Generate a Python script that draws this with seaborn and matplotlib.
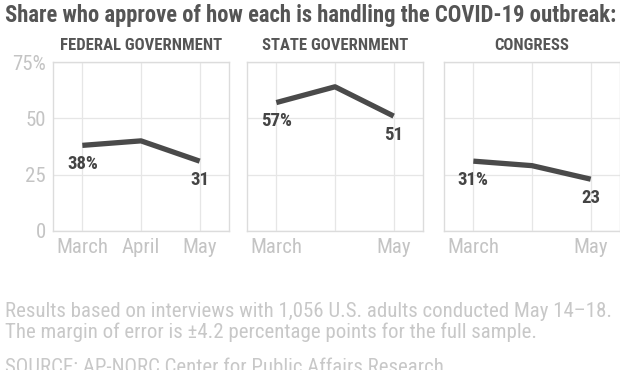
import matplotlib
matplotlib.use("Agg")
import matplotlib.pyplot as plt
import seaborn as sns
import pandas as pd

sns.set_theme(style="white")
plt.rcParams['font.family'] = ['Roboto Condensed', 'DejaVu Sans']

# data
months = ['March', 'April', 'May']
federal = [38, 40, 31]
state = [57, 64, 51]
congress = [31, 29, 23]
panels = ['FEDERAL GOVERNMENT', 'STATE GOVERNMENT', 'CONGRESS']
tick_shown = [['March', 'April', 'May'], ['March', '', 'May'], ['March', '', 'May']]

line_col = '#4a4a4a'
light = '#c4c4c4'
grid_col = '#e6e6e6'

fig = plt.figure(figsize=(6.2, 3.7), dpi=100)
lefts = [53, 247, 444]
width = 176
for i, (name, vals) in enumerate(zip(panels, [federal, state, congress])):
    ax = fig.add_axes([lefts[i] / 620, (370 - 231) / 370, width / 620, 169 / 370])
    df = pd.DataFrame({'x': range(len(months)), 'y': vals})
    sns.lineplot(data=df, x='x', y='y', ax=ax, color=line_col, linewidth=3.8,
                 solid_capstyle='butt')
    ax.set_xlim(-0.5, 2.5)
    ax.set_ylim(0, 75)
    ax.set_xticks(range(len(months)))
    ax.set_xticklabels(tick_shown[i])
    ax.set_yticks([0, 25, 50, 75])
    if i == 0:
        ax.set_yticklabels(['0', '25', '50', '75%'])
    else:
        ax.set_yticklabels([])
    ax.tick_params(length=0, labelsize=15, labelcolor=light, pad=5)
    ax.grid(True, color=grid_col, linewidth=0.9)
    for s in ax.spines.values():
        s.set_color('#dcdcdc')
        s.set_linewidth(1.0)
    ax.set_xlabel('')
    ax.set_ylabel('')
    ax.set_title(name, fontsize=12, fontweight='bold', color='#555555', pad=9)
    # value labels
    ax.annotate(f'{vals[0]}%', (0, vals[0]), xytext=(0, -7), textcoords='offset points',
                ha='center', va='top', fontsize=13.5, fontweight='bold', color='#444444')
    ax.annotate(f'{vals[-1]}', (2, vals[-1]), xytext=(0, -7), textcoords='offset points',
                ha='center', va='top', fontsize=13.5, fontweight='bold', color='#444444')

fig.text(0.008, 0.958, 'Share who approve of how each is handling the COVID-19 outbreak:',
         fontsize=16.3, fontweight='bold', color='#555555', va='center')
fig.text(0.008, 0.157, 'Results based on interviews with 1,056 U.S. adults conducted May 14\u201318.',
         fontsize=15, color='#c8c8c8', va='center')
fig.text(0.008, 0.103, 'The margin of error is \u00b14.2 percentage points for the full sample.',
         fontsize=15, color='#c8c8c8', va='center')
fig.text(0.008, 0.008, 'SOURCE: AP-NORC Center for Public Affairs Research',
         fontsize=15, color='#c8c8c8', va='center')

fig.savefig('out.png', dpi=100)
